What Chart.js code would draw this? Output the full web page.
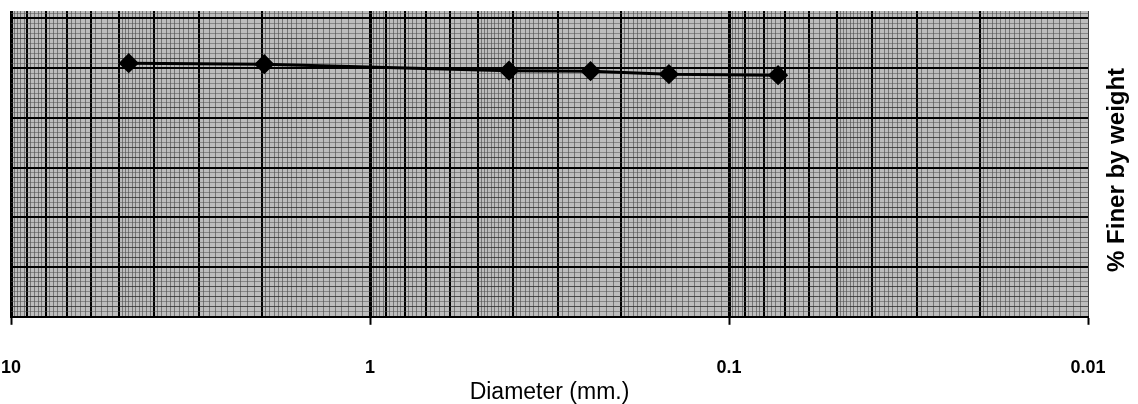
<!DOCTYPE html>
<html>
<head>
<meta charset="utf-8">
<title>Grain size distribution</title>
<script src="https://cdn.jsdelivr.net/npm/chart.js@4.4.0/dist/chart.umd.min.js"></script>
<style>
  html, body { margin: 0; padding: 0; background: #fff; }
  #wrap { width: 1138px; height: 404px; position: relative; }
</style>
</head>
<body>
<div id="wrap"><canvas id="gradationChart"></canvas></div>
<script>
// ---- data ----
const diameters = [4.7, 1.97, 0.41, 0.243, 0.147, 0.073];   // mm
const percentFiner = [51.0, 50.8, 49.5, 49.4, 48.8, 48.6];  // %
const decadeTicks = [10, 1, 0.1, 0.01];
const decadeLabels = ['10', '1', '0.1', '0.01'];
const xTitle = 'Diameter (mm.)';
const yTitle = '% Finer by weight';

const FONT = '"Liberation Sans", Arial, Helvetica, sans-serif';

// log paper rulings: every 1..10 per decade plus finer subdivisions
function logPaperTicks() {
  const out = [];
  for (let e = -2; e < 1; e++) {
    const base = Math.pow(10, e);
    for (let h = 100; h < 1000; h += (h < 200 ? 5 : h < 500 ? 10 : 20)) {
      const kind = h === 100 ? 'decade' : (h % 100 === 0 ? 'major' : 'minor');
      out.push({ value: Number((h * base / 100).toPrecision(6)), kind: kind });
    }
  }
  out.push({ value: 10, kind: 'decade' });
  return out;
}

function percentTicks(max) {
  const out = [];
  for (let v = 0; v <= max; v++) {
    out.push({ value: v, kind: v % 10 === 0 ? 'major' : (v % 2 === 0 ? 'mid' : 'minor') });
  }
  return out;
}

const paperBackground = {
  id: 'paperBackground',
  beforeDraw(chart) {
    const { ctx, chartArea: { left, top, right, bottom } } = chart;
    ctx.save();
    ctx.fillStyle = '#bdbdbd';
    ctx.fillRect(left, top, right - left, bottom - top);
    ctx.restore();
  }
};

// right-hand caption, reads bottom to top
const sideCaption = {
  id: 'sideCaption',
  afterDraw(chart) {
    const { ctx, chartArea: { top, right, bottom } } = chart;
    ctx.save();
    ctx.translate(right + 29, (top + bottom) / 2 + 6);
    ctx.rotate(-Math.PI / 2);
    ctx.font = 'bold 24px ' + FONT;
    ctx.fillStyle = '#000';
    ctx.textAlign = 'center';
    ctx.textBaseline = 'middle';
    ctx.fillText(yTitle, 0, 0);
    ctx.restore();
  }
};

const ctx = document.getElementById('gradationChart').getContext('2d');

new Chart(ctx, {
  type: 'line',
  data: {
    datasets: [{
      data: diameters.map((d, i) => ({ x: d, y: percentFiner[i] })),
      borderColor: '#000',
      borderWidth: 3,
      backgroundColor: '#000',
      pointStyle: 'rectRot',
      pointRadius: 8,
      pointBackgroundColor: '#000',
      pointBorderColor: '#000',
      tension: 0
    }]
  },
  options: {
    responsive: true,
    maintainAspectRatio: false,
    animation: false,
    layout: { padding: { top: 9, left: 9, right: 50, bottom: 0 } },
    plugins: {
      legend: { display: false },
      tooltip: { enabled: false }
    },
    scales: {
      x: {
        type: 'logarithmic',
        reverse: true,
        min: 0.01,
        max: 10,
        afterBuildTicks: (scale) => { scale.ticks = logPaperTicks(); },
        border: { display: true, color: '#000', width: 2 },
        grid: {
          drawTicks: true,
          tickLength: 8,
          color: (c) => {
            const k = c.tick && c.tick.kind;
            if (k === 'decade') return c.tick.value === 0.01 ? '#444' : '#000';
            if (k === 'major') return '#000';
            return 'rgba(60,60,60,0.55)';
          },
          lineWidth: (c) => {
            const k = c.tick && c.tick.kind;
            if (k === 'decade') return c.tick.value === 0.01 ? 1 : 3;
            if (k === 'major') return 2;
            return 1;
          },
          tickColor: (c) => (c.tick && c.tick.kind === 'decade') ? '#000' : 'rgba(0,0,0,0)',
          tickWidth: 2
        },
        ticks: {
          autoSkip: false,
          maxRotation: 0,
          minRotation: 0,
          padding: 32,
          color: '#000',
          font: { family: FONT, size: 18, weight: 'bold' },
          callback: (value) => {
            const i = decadeTicks.findIndex(t => Math.abs(t - value) < t * 1e-6);
            return i >= 0 ? decadeLabels[i] : '';
          }
        },
        title: {
          display: true,
          text: xTitle,
          color: '#000',
          font: { family: FONT, size: 23 },
          padding: { top: -32, bottom: -2 }
        }
      },
      y: {
        type: 'linear',
        min: 0,
        max: 61.5,
        afterBuildTicks: (scale) => { scale.ticks = percentTicks(61); },
        border: { display: false },
        grid: {
          drawTicks: false,
          color: (c) => {
            const k = c.tick && c.tick.kind;
            if (k === 'major') return '#000';
            if (k === 'mid') return 'rgba(40,40,40,0.75)';
            return 'rgba(80,80,80,0.5)';
          },
          lineWidth: (c) => (c.tick && c.tick.kind === 'major') ? 2 : 1
        },
        ticks: { display: false }
      }
    }
  },
  plugins: [paperBackground, sideCaption]
});
</script>
</body>
</html>
